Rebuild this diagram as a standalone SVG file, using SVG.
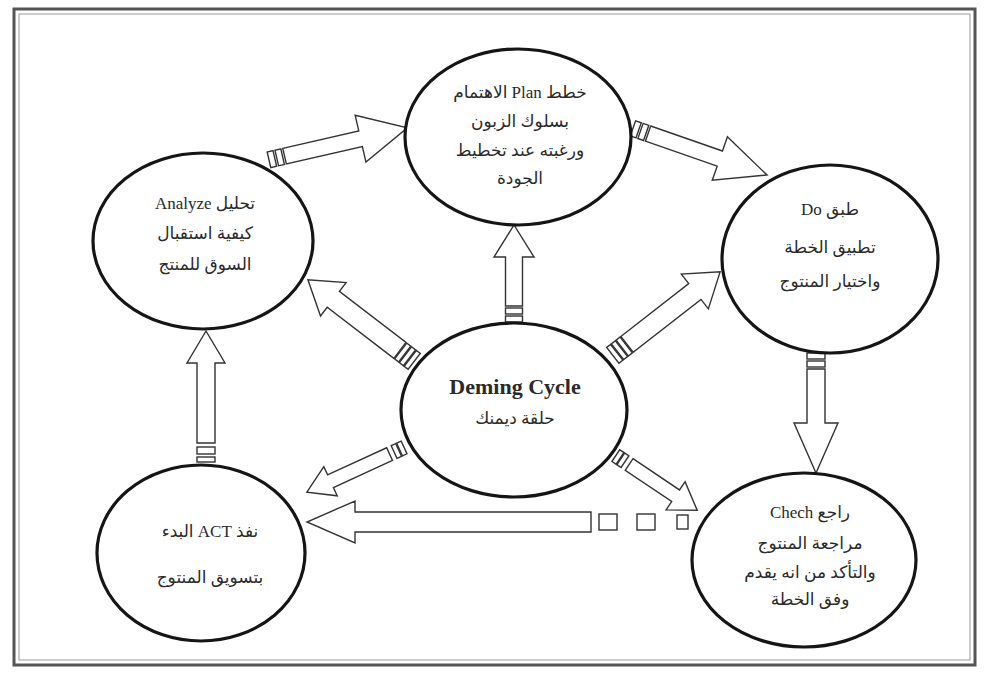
<svg xmlns="http://www.w3.org/2000/svg" width="985" height="675" viewBox="0 0 985 675">
<style>
.node ellipse{fill:#fff;stroke:#151515;stroke-width:3.2}
.ar{fill:#fff;stroke:#333;stroke-width:1.4;stroke-linejoin:miter}
.t{font-family:"Liberation Serif","DejaVu Sans",serif;font-size:17px;fill:#2a2a2a;text-anchor:middle;direction:rtl}
.en{font-family:"Liberation Serif",serif;font-size:22px;font-weight:bold;fill:#2a2a2a;text-anchor:middle}
</style>
<rect x="0" y="0" width="985" height="675" fill="#fff"/>
<rect x="14" y="9" width="961" height="656" fill="none" stroke="#555" stroke-width="3"/>
<rect x="19" y="14" width="951" height="646" fill="none" stroke="#9a9a9a" stroke-width="1"/>

<g id="connectors">
  <!-- Analyze -> Plan -->
  <g class="ar" transform="translate(268,160) rotate(-12.97)">
    <path d="M17,-8 L95,-8 L95,-24 L143,0 L95,24 L95,8 L17,8 Z"/>
    <rect x="1" y="-8" width="6" height="16"/><rect x="9" y="-8" width="6" height="16"/>
  </g>
  <!-- Plan -> Do -->
  <g class="ar" transform="translate(632,128) rotate(19.2)">
    <path d="M17,-8 L93,-8 L93,-23 L143,0 L93,23 L93,8 L17,8 Z"/>
    <rect x="1" y="-8" width="6" height="16"/><rect x="9" y="-8" width="6" height="16"/>
  </g>
  <!-- Center -> Plan -->
  <g class="ar" transform="translate(514,323) rotate(-90)">
    <path d="M17,-8.5 L66,-8.5 L66,-20 L98,0 L66,20 L66,8.5 L17,8.5 Z"/>
    <rect x="1" y="-8.5" width="6" height="17"/><rect x="9" y="-8.5" width="6" height="17"/>
  </g>
  <!-- Center -> Analyze -->
  <g class="ar" transform="translate(415,362) rotate(-142.5)">
    <path d="M19,-10 L103,-10 L103,-21 L135,0 L103,21 L103,10 L19,10 Z"/>
    <rect x="1" y="-10" width="5" height="20"/><rect x="7" y="-10" width="5" height="20"/><rect x="13" y="-10" width="5" height="20"/>
  </g>
  <!-- Center -> Do -->
  <g class="ar" transform="translate(612,356) rotate(-37.9)">
    <path d="M19,-10 L105,-10 L105,-22 L137,0 L105,22 L105,10 L19,10 Z"/>
    <rect x="1" y="-10" width="5" height="20"/><rect x="7" y="-10" width="5" height="20"/><rect x="13" y="-10" width="5" height="20"/>
  </g>
  <!-- Do -> Check -->
  <g class="ar" transform="translate(816,352) rotate(90)">
    <path d="M17,-9 L71,-9 L71,-22 L121,0 L71,22 L71,9 L17,9 Z"/>
    <rect x="1" y="-9" width="6" height="18"/><rect x="9" y="-9" width="6" height="18"/>
  </g>
  <!-- Center -> Act -->
  <g class="ar" transform="translate(405,447) rotate(155.3)">
    <path d="M17,-7 L82,-7 L82,-16 L108,0 L82,16 L82,7 L17,7 Z"/>
    <rect x="1" y="-7" width="5" height="14"/><rect x="7" y="-7" width="5" height="14"/>
  </g>
  <!-- Center -> Check -->
  <g class="ar" transform="translate(615,455) rotate(33.9)">
    <path d="M17,-7 L73,-7 L73,-17 L99,0 L73,17 L73,7 L17,7 Z"/>
    <rect x="1" y="-7" width="5" height="14"/><rect x="7" y="-7" width="5" height="14"/>
  </g>
  <!-- Check -> Act -->
  <g class="ar">
    <path d="M591,512 L355,512 L355,501 L307,522 L355,543 L355,532 L591,532 Z"/>
    <rect x="599" y="514" width="18" height="16"/><rect x="637" y="514" width="18" height="16"/><rect x="677" y="515" width="11" height="14"/>
  </g>
  <!-- Act -> Analyze -->
  <g class="ar" transform="translate(206,465) rotate(-90)">
    <path d="M22,-9 L102,-9 L102,-19 L134,0 L102,19 L102,9 L22,9 Z"/>
    <rect x="3" y="-9" width="5" height="18"/><rect x="11" y="-9" width="7" height="18"/>
  </g>
</g>

<g id="plan" class="node">
  <ellipse cx="518" cy="137" rx="113" ry="88"/>
  <text class="t" x="520" y="98">خطط Plan الاهتمام</text>
  <text class="t" x="520" y="127">بسلوك الزبون</text>
  <text class="t" x="520" y="156">ورغبته عند تخطيط</text>
  <text class="t" x="520" y="184">الجودة</text>
</g>
<g id="analyze" class="node">
  <ellipse cx="203" cy="241" rx="110" ry="88"/>
  <text class="t" x="205" y="209">تحليل Analyze</text>
  <text class="t" x="205" y="239">كيفية استقبال</text>
  <text class="t" x="205" y="270">السوق للمنتج</text>
</g>
<g id="do" class="node">
  <ellipse cx="830" cy="259" rx="108" ry="94"/>
  <text class="t" x="830" y="215">طبق Do</text>
  <text class="t" x="830" y="253">تطبيق الخطة</text>
  <text class="t" x="830" y="287">واختيار المنتوج</text>
</g>
<g id="deming" class="node">
  <ellipse cx="514" cy="410" rx="113" ry="87"/>
  <text class="en" x="515" y="394">Deming Cycle</text>
  <text class="t" x="515" y="424">حلقة ديمنك</text>
</g>
<g id="act" class="node">
  <ellipse cx="201" cy="553" rx="104" ry="88"/>
  <text class="t" x="210" y="537">نفذ ACT البدء</text>
  <text class="t" x="210" y="583">بتسويق المنتوج</text>
</g>
<g id="check" class="node">
  <ellipse cx="804" cy="560" rx="112" ry="87"/>
  <text class="t" x="810" y="518">راجع Chech</text>
  <text class="t" x="810" y="549">مراجعة المنتوج</text>
  <text class="t" x="810" y="578">والتأكد من انه يقدم</text>
  <text class="t" x="810" y="605">وفق الخطة</text>
</g>
</svg>
